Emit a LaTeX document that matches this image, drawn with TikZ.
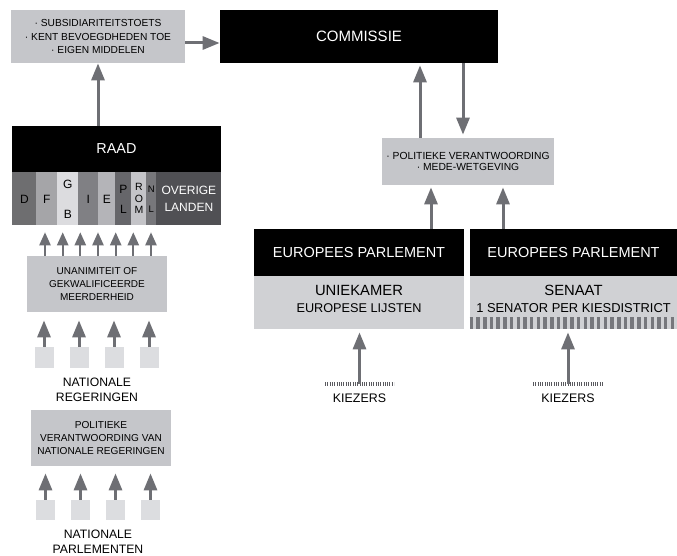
\documentclass[tikz,border=0pt]{standalone}
\usepackage{fontspec}
\setmainfont{Liberation Sans}
\usetikzlibrary{arrows.meta,calc}

\definecolor{boxgrey}{RGB}{197,198,202}
\definecolor{ondergrey}{RGB}{208,209,212}
\definecolor{vakgrey}{RGB}{220,221,224}
\definecolor{pijlgrey}{RGB}{110,111,116}
\definecolor{streepgrey}{RGB}{118,119,124}
\definecolor{fijngrey}{RGB}{90,90,95}
\definecolor{landD}{RGB}{110,110,112}
\definecolor{landF}{RGB}{165,165,168}
\definecolor{landGB}{RGB}{220,220,223}
\definecolor{landI}{RGB}{128,128,132}
\definecolor{landE}{RGB}{180,180,184}
\definecolor{landPL}{RGB}{102,102,106}
\definecolor{landROM}{RGB}{196,196,200}
\definecolor{landNL}{RGB}{119,119,123}
\definecolor{landOV}{RGB}{80,80,84}

\tikzset{every picture/.style={line width=0.75pt}}

\begin{document}
\begin{tikzpicture}[x=1pt,y=1pt,yscale=-1,xscale=1,
  zwart/.style={fill=black,text=white,inner sep=0pt,font=\fontsize{15}{18}\selectfont},
  grijs/.style={fill=boxgrey,inner sep=0pt,align=center,font=\fontsize{10.2}{13.5}\selectfont},
  onder/.style={fill=ondergrey,inner sep=0pt},
  vak/.style={fill=vakgrey,minimum width=19pt,minimum height=21pt,inner sep=0pt},
  land/.style={anchor=north west,minimum height=53pt,inner sep=0pt,align=center,font=\fontsize{12}{17}\selectfont},
  tekst/.style={align=center,inner sep=0pt,font=\fontsize{12.2}{15}\selectfont},
  pijl/.style={pijlgrey,line width=3pt,-{Triangle[length=17pt,width=13pt]}},
  pijltje/.style={pijlgrey,line width=2.2pt,-{Triangle[length=13pt,width=11pt]}},
  fijn/.style={fijngrey,line width=4pt,dash pattern=on 1pt off 1.3pt},
  streep/.style={streepgrey,line width=12pt,dash pattern=on 3.5pt off 3.2pt}]
\useasboundingbox (0,0) rectangle (677,556);

%Shape: Rectangle [taken]
\node[grijs,minimum width=174pt,minimum height=53pt] (taken) at (98,36.5) {· SUBSIDIARITEITSTOETS\\· KENT BEVOEGDHEDEN TOE\\· EIGEN MIDDELEN};
%Shape: Rectangle [commissie]
\node[zwart,minimum width=278pt,minimum height=53pt] (com) at (359,36.5) {COMMISSIE};
\draw[pijl] ($(taken.east)+(0,6.5)$) -- ($(com.west)+(0,6.5)$);

%Shape: Rectangle [raad]
\node[zwart,minimum width=209pt,minimum height=46pt,font=\fontsize{14.4}{17}\selectfont] (raad) at (116.5,149) {RAAD};
\draw[pijl] (raad.north -| taken) -- (taken.south);

%Landen
\node[land,fill=landD,minimum width=24pt] (landD) at (12,172) {D};
\node[land,fill=landF,minimum width=21pt] (landF) at (36,172) {F};
\node[land,fill=landGB,minimum width=21pt,font=\fontsize{12}{30}\selectfont] (landGB) at (57,172) {G\\B};
\node[land,fill=landI,minimum width=20pt] (landI) at (78,172) {I};
\node[land,fill=landE,minimum width=17pt] (landE) at (98,172) {E};
\node[land,fill=landPL,minimum width=16pt,font=\fontsize{12}{20}\selectfont] (landPL) at (115,172) {P\\L};
\node[land,fill=landROM,minimum width=15pt,font=\fontsize{10.5}{11.5}\selectfont] (landROM) at (131,172) {R\\O\\M};
\node[land,fill=landNL,minimum width=10pt,font=\fontsize{9.5}{20}\selectfont] (landNL) at (146,172) {N\\L};
\node[land,fill=landOV,minimum width=65pt,text=white] (landOV) at (156,172) {OVERIGE\\LANDEN};

%Shape: Rectangle [unanimiteit]
\node[grijs,minimum width=140pt,minimum height=56pt,font=\fontsize{10}{13}\selectfont] (unan) at (97,284) {UNANIMITEIT OF\\GEKWALIFICEERDE\\MEERDERHEID};
\foreach \x in {45,62.7,80.3,98,115.7,133.3,151}{
  \coordinate (p) at (\x,0);
  \draw[pijltje,shorten >=6.5pt] (unan.north -| p) -- (landD.south -| p);
}

%Nationale regeringen
\foreach \i in {1,...,4}{
  \node[vak] (reg\i) at (9+35*\i,357.5) {};
  \draw[pijl,shorten >=8pt] (reg\i.north) -- (reg\i |- unan.south);
}
\node[tekst] (natreg) at (97,389.5) {NATIONALE\\REGERINGEN};

%Shape: Rectangle [politieke verantwoording]
\node[grijs,minimum width=140pt,minimum height=56pt,font=\fontsize{10.1}{13}\selectfont] (polit) at (101,438) {POLITIEKE\\VERANTWOORDING VAN\\NATIONALE REGERINGEN};

%Nationale parlementen
\foreach \i in {1,...,4}{
  \node[vak,minimum height=20pt] (parl\i) at (10.5+35*\i,510) {};
  \draw[pijl,shorten >=7pt] (parl\i.north) -- (parl\i |- polit.south);
}
\node[tekst] (natparl) at (98,541.5) {NATIONALE\\PARLEMENTEN};

%Shape: Rectangle [medewetgeving]
\node[grijs,minimum width=172pt,minimum height=47pt,font=\fontsize{10.3}{10.8}\selectfont] (pol) at (468,161.5) {· POLITIEKE VERANTWOORDING\\· MEDE-WETGEVING};
\coordinate (omhoog) at (420,0);
\coordinate (omlaag) at (463,0);
\draw[pijl,shorten >=2pt] (pol.north -| omhoog) -- (com.south -| omhoog);
\draw[pijl,shorten >=3pt] (com.south -| omlaag) -- (pol.north -| omlaag);

%Europees parlement links
\node[zwart,minimum width=210pt,minimum height=47pt,font=\fontsize{14.5}{17}\selectfont] (epl) at (359,252.5) {EUROPEES PARLEMENT};
\node[onder,minimum width=210pt,minimum height=53pt] (uniek) at (359,302.5) {};
\node[tekst,font=\fontsize{12.7}{17}\selectfont] (uniektxt) at (359,298.5) {{\fontsize{14.8}{17}\selectfont UNIEKAMER}\\EUROPESE LIJSTEN};

%Europees parlement rechts
\node[zwart,minimum width=207pt,minimum height=47pt,font=\fontsize{14.5}{17}\selectfont] (epr) at (573.5,252.5) {EUROPEES PARLEMENT};
\node[onder,minimum width=207pt,minimum height=53pt] (senaat) at (573.5,302.5) {};
\draw[streep] ($(senaat.south west)+(0,-6)$) -- ($(senaat.south east)+(0,-6)$);
\node[tekst,font=\fontsize{12.9}{17}\selectfont] (senaattxt) at (573.5,298.5) {{\fontsize{14.8}{17}\selectfont SENAAT}\\1 SENATOR PER KIESDISTRICT};

\coordinate (links) at (431,0);
\coordinate (rechts) at (503,0);
\draw[pijl,shorten >=2pt] (epl.north -| links) -- (pol.south -| links);
\draw[pijl,shorten >=2pt] (epr.north -| rechts) -- (pol.south -| rechts);

%Kiezers
\coordinate (kzl) at (359.5,384);
\draw[fijn] ($(kzl)+(-34.5,0)$) -- ($(kzl)+(34.5,0)$);
\node[tekst,font=\fontsize{12.4}{15}\selectfont] (kiesl) at (359.5,398) {KIEZERS};
\draw[pijl,shorten >=3pt] (kzl) -- (uniek.south -| kzl);

\coordinate (kzr) at (568,384);
\draw[fijn] ($(kzr)+(-35,0)$) -- ($(kzr)+(35,0)$);
\node[tekst,font=\fontsize{12.4}{15}\selectfont] (kiesr) at (568,398) {KIEZERS};
\draw[pijl,shorten >=3pt] (kzr) -- (senaat.south -| kzr);

\end{tikzpicture}
\end{document}
